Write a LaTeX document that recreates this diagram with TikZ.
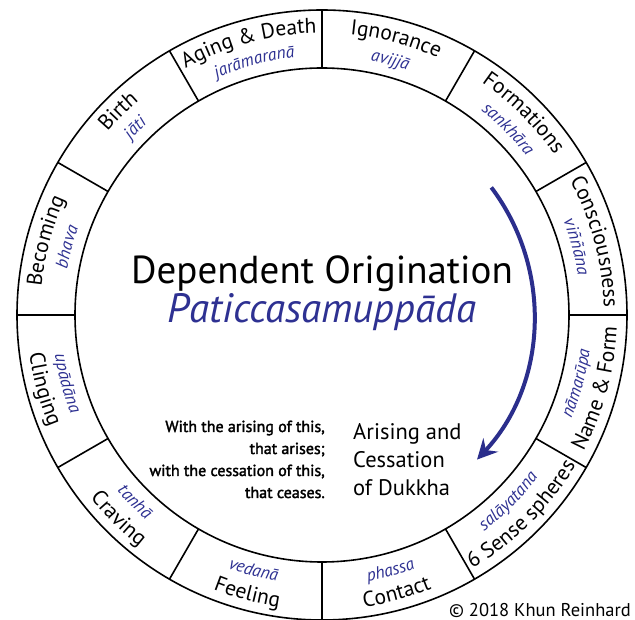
\documentclass[tikz,border=0pt]{standalone}
\usepackage{fontspec}
\setmainfont{PT Sans}
\newfontfamily\semib{PT Sans}[FakeBold=2]
\usetikzlibrary{decorations.text,arrows.meta}
\definecolor{pali}{HTML}{2E3192}
\definecolor{arrc}{HTML}{2B2E8C}
\newcommand\mlab{\fontsize{21.5}{21.5}\selectfont\color{black}}
\newcommand\plab{\fontsize{17.5}{17.5}\selectfont\itshape\color{pali}}
\tikzset{
  ring/.style={draw=black, line width=1.6pt},
  bigarrow/.style={draw=arrc, line width=4pt, -{Stealth[length=20pt,width=20pt,inset=7pt]}},
  titlefont/.style={font=\fontsize{39}{39}\selectfont},
  palifont/.style={font=\fontsize{41}{41}\selectfont\itshape},
  versefont/.style={font=\semib\fontsize{16}{16}\selectfont},
  dukkhafont/.style={font=\fontsize{22.5}{22.5}\selectfont},
}
\newcommand\toplabel[3]{%
  \path[decorate,decoration={text along path,text align=center,text={|\mlab|#2}}]
    ({#1+45}:282pt) arc[start angle={#1+45},end angle={#1-45},radius=282pt];
  \path[decorate,decoration={text along path,text align=center,text={|\plab|#3}}]
    ({#1+45}:259pt) arc[start angle={#1+45},end angle={#1-45},radius=259pt];
}
\newcommand\botlabel[3]{%
  \path[decorate,decoration={text along path,text align=center,text={|\mlab|#2}}]
    ({#1-45}:295pt) arc[start angle={#1-45},end angle={#1+45},radius=295pt];
  \path[decorate,decoration={text along path,text align=center,text={|\plab|#3}}]
    ({#1-45}:270pt) arc[start angle={#1-45},end angle={#1+45},radius=270pt];
}
\begin{document}
\begin{tikzpicture}
\useasboundingbox[fill=white] (-322pt,-305pt) rectangle (313pt,315pt);
\coordinate (c) at (0,0);
% ring
\draw[ring] (c) circle[radius=305pt];
\draw[ring] (c) circle[radius=247pt];
\foreach \a in {0,30,...,330} \draw[ring] (\a:247pt) -- (\a:305pt);
% labels
\toplabel{75}{Ignorance}{avijjā}
\toplabel{45}{Formations}{sankhāra}
\toplabel{15}{Consciousness}{viññāna}
\botlabel{-15}{Name {\&} Form}{nāmarūpa}
\botlabel{-45}{6 Sense spheres}{salāyatana}
\botlabel{-75}{Contact}{phassa}
\botlabel{-105}{Feeling}{vedanā}
\botlabel{-135}{Craving}{tanhā}
\botlabel{-165}{Clinging}{upādāna}
\toplabel{165}{Becoming}{bhava}
\toplabel{135}{Birth}{jāti}
\toplabel{105}{Aging {\&} Death}{jarāmaranā}
% title
\node[titlefont, anchor=base] (title) at (0pt,31pt) {Dependent Origination};
\node[palifont, anchor=base, text=pali] (paliname) at (0pt,-8pt) {Paticcasamuppāda};
% arrow
\draw[bigarrow] (37:212pt) arc[start angle=37,end angle=-43,radius=212pt];
% verse
\node[versefont, anchor=base east, inner sep=0pt] (v1) at (3pt,-117pt) {With the arising of this,};
\node[versefont, anchor=base east, inner sep=0pt] (v2) at (3pt,-139pt) {that arises;};
\node[versefont, anchor=base east, inner sep=0pt] (v3) at (3pt,-161pt) {with the cessation of this,};
\node[versefont, anchor=base east, inner sep=0pt] (v4) at (3pt,-183pt) {that ceases.};
\node[dukkhafont, anchor=base west, inner sep=0pt] (d1) at (31pt,-125pt) {Arising and};
\node[dukkhafont, anchor=base west, inner sep=0pt] (d2) at (31pt,-153pt) {Cessation};
\node[dukkhafont, anchor=base west, inner sep=0pt] (d3) at (31pt,-181pt) {of Dukkha};
% copyright
\node[anchor=base east, inner sep=0pt, font=\fontsize{18.5}{18.5}\selectfont] (copy) at (309pt,-302pt) {© 2018 Khun Reinhard};
\end{tikzpicture}
\end{document}
